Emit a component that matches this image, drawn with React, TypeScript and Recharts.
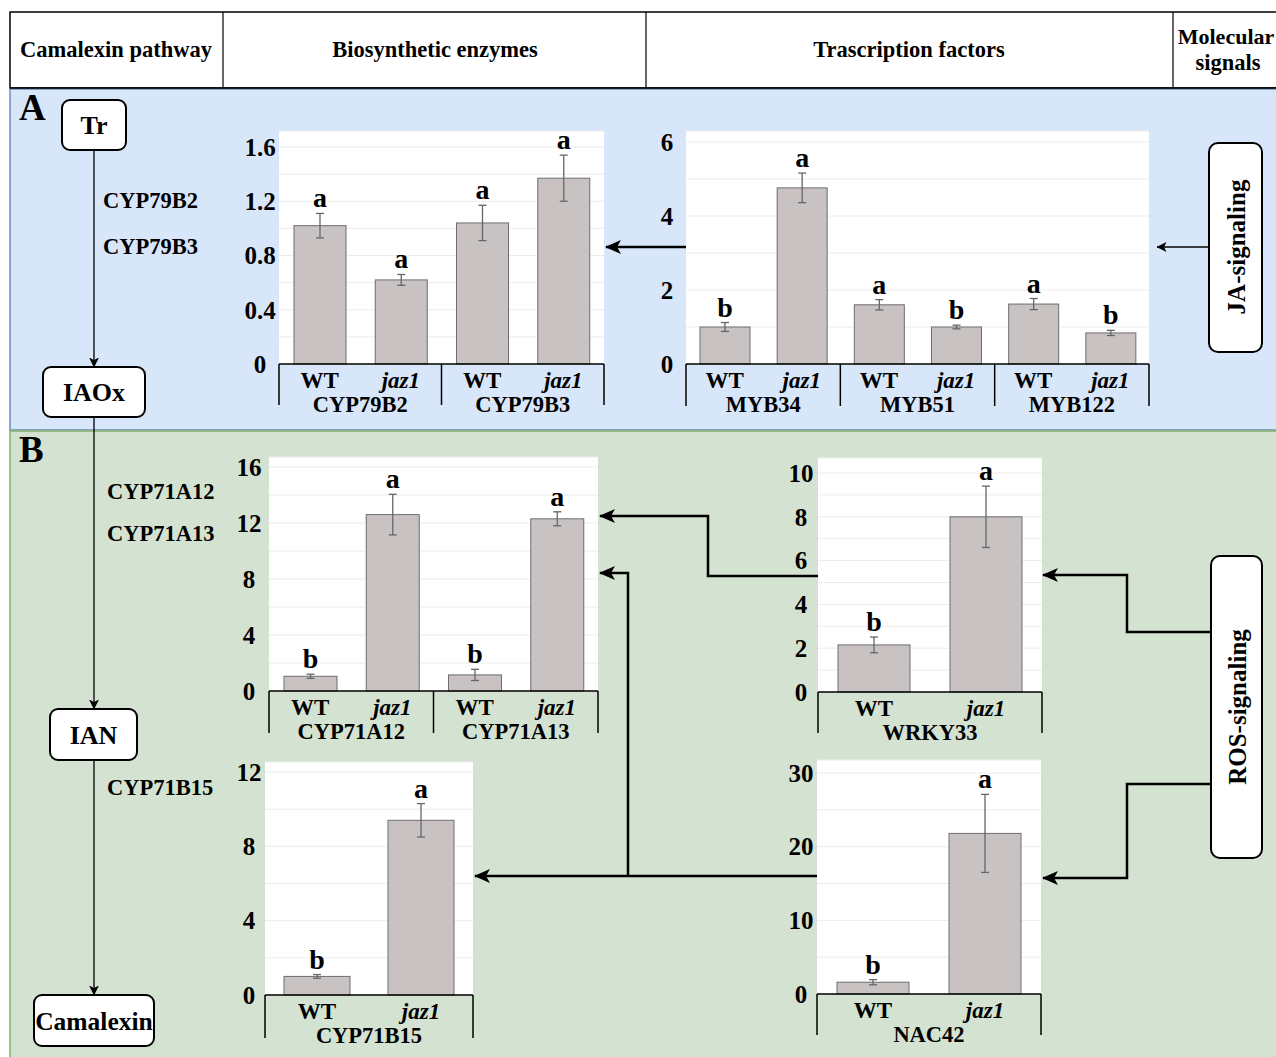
import React from 'react';
import { BarChart, Bar, XAxis, YAxis, CartesianGrid, ErrorBar } from 'recharts';

const FONT = '"Liberation Serif", "Times New Roman", serif';

const strains = ['WT', 'jaz1'];

// A: biosynthetic enzymes
const cyp79Genes = ['CYP79B2', 'CYP79B3'];
const cyp79Values = [1.02, 0.62, 1.04, 1.37];
const cyp79Errors = [0.09, 0.04, 0.13, 0.17];
const cyp79Letters = ['a', 'a', 'a', 'a'];
const cyp79Ticks = [0, 0.2, 0.4, 0.6, 0.8, 1.0, 1.2, 1.4, 1.6];
const cyp79Labels = [0, 0.4, 0.8, 1.2, 1.6];

// A: transcription factors
const mybGenes = ['MYB34', 'MYB51', 'MYB122'];
const mybValues = [1.0, 4.76, 1.6, 1.0, 1.62, 0.84];
const mybErrors = [0.12, 0.4, 0.14, 0.05, 0.15, 0.07];
const mybLetters = ['b', 'a', 'a', 'b', 'a', 'b'];
const mybTicks = [0, 1, 2, 3, 4, 5, 6];
const mybLabels = [0, 2, 4, 6];

// B: biosynthetic enzymes
const cyp71aGenes = ['CYP71A12', 'CYP71A13'];
const cyp71aValues = [1.05, 12.6, 1.15, 12.3];
const cyp71aErrors = [0.15, 1.45, 0.4, 0.5];
const cyp71aLetters = ['b', 'a', 'b', 'a'];
const cyp71aTicks = [0, 2, 4, 6, 8, 10, 12, 14, 16];
const cyp71aLabels = [0, 4, 8, 12, 16];

const cyp71bGenes = ['CYP71B15'];
const cyp71bValues = [1.0, 9.4];
const cyp71bErrors = [0.1, 0.9];
const cyp71bLetters = ['b', 'a'];
const cyp71bTicks = [0, 2, 4, 6, 8, 10, 12];
const cyp71bLabels = [0, 4, 8, 12];

// B: transcription factors
const wrkyGenes = ['WRKY33'];
const wrkyValues = [2.15, 8.0];
const wrkyErrors = [0.36, 1.4];
const wrkyLetters = ['b', 'a'];
const wrkyTicks = [0, 1, 2, 3, 4, 5, 6, 7, 8, 9, 10];
const wrkyLabels = [0, 2, 4, 6, 8, 10];

const nacGenes = ['NAC42'];
const nacValues = [1.6, 21.8];
const nacErrors = [0.35, 5.3];
const nacLetters = ['b', 'a'];
const nacTicks = [0, 5, 10, 15, 20, 25, 30];
const nacLabels = [0, 10, 20, 30];

type Row = { id: string; gene: string; strain: string; value: number; err: number; letter: string };

const buildRows = (genes: string[], values: number[], errors: number[], letters: string[]): Row[] =>
  genes.flatMap((gene, gi) =>
    strains.map((strain, si) => {
      const i = gi * strains.length + si;
      return { id: `${gene}-${strain}`, gene, strain, value: values[i], err: errors[i], letter: letters[i] };
    })
  );

type Frame = {
  left: number;
  right: number;
  top: number;
  zero: number;
  sepBottom: number;
  padTop: number;
  barSize: number;
  labelShift: number;
};

const BarWithLetter = (props: any) => {
  const { x, y, width, height, payload } = props;
  const perUnit = payload.value ? height / payload.value : 0;
  const errTop = y - payload.err * perUnit;
  return (
    <g>
      <rect x={x} y={y} width={width} height={height} fill="#c9c2c2" stroke="#6e6e6e" strokeWidth={1} />
      <text
        x={x + width / 2}
        y={errTop - 6}
        textAnchor="middle"
        fontFamily={FONT}
        fontWeight="bold"
        fontSize={28}
        fill="#000"
      >
        {payload.letter}
      </text>
    </g>
  );
};

const GeneChart = ({
  rows,
  ticks,
  labels,
  frame,
}: {
  rows: Row[];
  ticks: number[];
  labels: number[];
  frame: Frame;
}) => {
  const yAxisW = 60;
  const rightPad = 6;
  const topPad = 30;
  const plotW = frame.right - frame.left;
  const xh = frame.sepBottom - frame.zero + 18;
  const height = topPad + frame.zero - frame.top + xh;
  const band = plotW / rows.length;
  const max = ticks[ticks.length - 1];

  const renderXTick = (props: any) => {
    const { x, y, payload } = props;
    const index = props.index ?? payload.index ?? 0;
    const row = rows[index];
    if (!row) return <g />;
    const sepLen = frame.sepBottom - frame.zero;
    const groupStart = index % strains.length === 0;
    const last = index === rows.length - 1;
    return (
      <g>
        <text
          x={x}
          y={y + 24}
          textAnchor="middle"
          fontFamily={FONT}
          fontWeight="bold"
          fontStyle={row.strain === 'WT' ? 'normal' : 'italic'}
          fontSize={23}
          fill="#000"
        >
          {row.strain}
        </text>
        {groupStart && (
          <>
            <line x1={x - band / 2} y1={y} x2={x - band / 2} y2={y + sepLen} stroke="#000" strokeWidth={1.5} />
            <text
              x={x - band / 2 + (band * strains.length) / 2}
              y={y + 48}
              textAnchor="middle"
              fontFamily={FONT}
              fontWeight="bold"
              fontSize={22.5}
              fill="#000"
            >
              {row.gene}
            </text>
          </>
        )}
        {last && <line x1={x + band / 2} y1={y} x2={x + band / 2} y2={y + sepLen} stroke="#000" strokeWidth={1.5} />}
      </g>
    );
  };

  const renderYTick = (props: any) => {
    const { x, y, payload } = props;
    if (!labels.includes(payload.value)) return <g />;
    return (
      <text
        x={x - frame.labelShift}
        y={y}
        dy="0.35em"
        textAnchor="middle"
        fontFamily={FONT}
        fontWeight="bold"
        fontSize={25}
        fill="#000"
      >
        {String(payload.value)}
      </text>
    );
  };

  return (
    <div style={{ position: 'absolute', left: frame.left - yAxisW, top: frame.top - topPad }}>
      <BarChart
        width={yAxisW + plotW + rightPad}
        height={height}
        data={rows}
        margin={{ top: topPad, right: rightPad, left: 0, bottom: 0 }}
      >
        <CartesianGrid vertical={false} stroke="#ececec" fill="#ffffff" fillOpacity={1} />
        <XAxis
          dataKey="id"
          height={xh}
          interval={0}
          tickSize={0}
          tickMargin={0}
          tickLine={false}
          axisLine={{ stroke: '#000', strokeWidth: 1.5 }}
          tick={renderXTick}
        />
        <YAxis
          width={yAxisW}
          domain={[0, max]}
          ticks={ticks}
          interval={0}
          padding={{ top: frame.padTop, bottom: 0 }}
          axisLine={false}
          tickLine={false}
          tickSize={0}
          tickMargin={0}
          tick={renderYTick}
        />
        <Bar dataKey="value" barSize={frame.barSize} shape={BarWithLetter} isAnimationActive={false}>
          <ErrorBar dataKey="err" width={4} stroke="#666" strokeWidth={1.3} direction="y" isAnimationActive={false} />
        </Bar>
      </BarChart>
    </div>
  );
};

const boxStyle = { fill: '#fff', stroke: '#000', strokeWidth: 2 };
const txt = { fontFamily: FONT, fontWeight: 'bold' as const, fill: '#000' };

const Background = () => (
  <svg width={1276} height={1057} style={{ position: 'absolute', left: 0, top: 0 }}>
    <defs>
      <marker id="bigHead" viewBox="0 0 16 14" refX={15} refY={7} markerWidth={16} markerHeight={14} markerUnits="userSpaceOnUse" orient="auto">
        <path d="M0,0 L16,7 L0,14 L4,7 z" fill="#000" />
      </marker>
      <marker id="smallHead" viewBox="0 0 10 10" refX={9.5} refY={5} markerWidth={10} markerHeight={10} markerUnits="userSpaceOnUse" orient="auto">
        <path d="M0,0 L10,5 L0,10 L2.5,5 z" fill="#000" />
      </marker>
    </defs>

    {/* header */}
    <rect x={10} y={12} width={1290} height={76} fill="#fff" stroke="#000" strokeWidth={1.5} />
    <line x1={223} y1={12} x2={223} y2={88} stroke="#000" strokeWidth={1.2} />
    <line x1={646} y1={12} x2={646} y2={88} stroke="#000" strokeWidth={1.2} />
    <line x1={1173} y1={12} x2={1173} y2={88} stroke="#000" strokeWidth={1.2} />
    <text {...txt} x={116} y={57} fontSize={22.5} textAnchor="middle">Camalexin pathway</text>
    <text {...txt} x={435} y={57} fontSize={22.5} textAnchor="middle">Biosynthetic enzymes</text>
    <text {...txt} x={909} y={57} fontSize={22.5} textAnchor="middle">Trascription factors</text>
    <text {...txt} x={1226} y={44} fontSize={22} textAnchor="middle">Molecular</text>
    <text {...txt} x={1228} y={70} fontSize={22.5} textAnchor="middle">signals</text>

    {/* panels */}
    <rect x={10} y={89} width={1290} height={341} fill="#d8e6fa" stroke="#6c8ebf" strokeWidth={1.5} />
    <rect x={10} y={431} width={1290} height={640} fill="#d4e3d1" stroke="#82b366" strokeWidth={1.5} />
    <line x1={10} y1={88} x2={1276} y2={88} stroke="#000" strokeWidth={1.5} />
    <text {...txt} x={19} y={120} fontSize={37}>A</text>
    <text {...txt} x={19} y={462} fontSize={37}>B</text>

    {/* pathway */}
    <path d="M94 150 V367" stroke="#000" strokeWidth={1.3} fill="none" markerEnd="url(#smallHead)" />
    <path d="M94 417 V709" stroke="#000" strokeWidth={1.3} fill="none" markerEnd="url(#smallHead)" />
    <path d="M94 760 V995" stroke="#000" strokeWidth={1.3} fill="none" markerEnd="url(#smallHead)" />
    <rect x={62} y={100} width={64} height={50} rx={8} {...boxStyle} />
    <text {...txt} x={94} y={134} fontSize={26} textAnchor="middle">Tr</text>
    <rect x={43} y={367} width={102} height={50} rx={8} {...boxStyle} />
    <text {...txt} x={94} y={401} fontSize={26} textAnchor="middle">IAOx</text>
    <rect x={50} y={709} width={87} height={51} rx={8} {...boxStyle} />
    <text {...txt} x={93.5} y={744} fontSize={26} textAnchor="middle">IAN</text>
    <rect x={34} y={995} width={120} height={51} rx={8} {...boxStyle} />
    <text {...txt} x={94} y={1030} fontSize={25.5} textAnchor="middle">Camalexin</text>
    <text {...txt} x={103} y={208} fontSize={22.5}>CYP79B2</text>
    <text {...txt} x={103} y={254} fontSize={22.5}>CYP79B3</text>
    <text {...txt} x={107} y={499} fontSize={22.5}>CYP71A12</text>
    <text {...txt} x={107} y={541} fontSize={22.5}>CYP71A13</text>
    <text {...txt} x={107} y={795} fontSize={22.5}>CYP71B15</text>

    {/* signalling boxes */}
    <rect x={1209} y={143} width={53} height={209} rx={9} {...boxStyle} />
    <text {...txt} fontSize={25} textAnchor="middle" transform="translate(1245 247) rotate(-90)">JA-signaling</text>
    <rect x={1211} y={556} width={51} height={302} rx={9} {...boxStyle} />
    <text {...txt} fontSize={25} textAnchor="middle" transform="translate(1246 707) rotate(-90)">ROS-signaling</text>

    {/* regulation arrows */}
    <path d="M1209 247 H1157" stroke="#000" strokeWidth={1.3} fill="none" markerEnd="url(#smallHead)" />
    <path d="M686 247 H606" stroke="#000" strokeWidth={2.5} fill="none" markerEnd="url(#bigHead)" />
    <path d="M1211 632 H1127 V575 H1043" stroke="#000" strokeWidth={2.5} fill="none" markerEnd="url(#bigHead)" />
    <path d="M1211 784 H1127 V878 H1043" stroke="#000" strokeWidth={2.5} fill="none" markerEnd="url(#bigHead)" />
    <path d="M818 576 H708 V516 H600" stroke="#000" strokeWidth={2.5} fill="none" markerEnd="url(#bigHead)" />
    <path d="M818 876 H475" stroke="#000" strokeWidth={2.5} fill="none" markerEnd="url(#bigHead)" />
    <path d="M628 876 V573 H600" stroke="#000" strokeWidth={2.5} fill="none" markerEnd="url(#bigHead)" />
  </svg>
);

export default function App() {
  return (
    <div
      style={{
        position: 'absolute',
        left: 0,
        top: 0,
        width: 1276,
        height: 1057,
        overflow: 'hidden',
        background: '#fff',
        fontFamily: FONT,
      }}
    >
      <Background />
      <GeneChart
        rows={buildRows(cyp79Genes, cyp79Values, cyp79Errors, cyp79Letters)}
        ticks={cyp79Ticks}
        labels={cyp79Labels}
        frame={{ left: 279, right: 604, top: 131, zero: 364, sepBottom: 405, padTop: 16, barSize: 52, labelShift: 19 }}
      />
      <GeneChart
        rows={buildRows(mybGenes, mybValues, mybErrors, mybLetters)}
        ticks={mybTicks}
        labels={mybLabels}
        frame={{ left: 686, right: 1149, top: 131, zero: 364, sepBottom: 406, padTop: 11, barSize: 50, labelShift: 19 }}
      />
      <GeneChart
        rows={buildRows(cyp71aGenes, cyp71aValues, cyp71aErrors, cyp71aLetters)}
        ticks={cyp71aTicks}
        labels={cyp71aLabels}
        frame={{ left: 269, right: 598, top: 457, zero: 691, sepBottom: 733, padTop: 10, barSize: 53, labelShift: 20 }}
      />
      <GeneChart
        rows={buildRows(wrkyGenes, wrkyValues, wrkyErrors, wrkyLetters)}
        ticks={wrkyTicks}
        labels={wrkyLabels}
        frame={{ left: 818, right: 1042, top: 458, zero: 692, sepBottom: 733, padTop: 15, barSize: 72, labelShift: 17 }}
      />
      <GeneChart
        rows={buildRows(cyp71bGenes, cyp71bValues, cyp71bErrors, cyp71bLetters)}
        ticks={cyp71bTicks}
        labels={cyp71bLabels}
        frame={{ left: 265, right: 473, top: 762, zero: 995, sepBottom: 1038, padTop: 10, barSize: 66, labelShift: 16 }}
      />
      <GeneChart
        rows={buildRows(nacGenes, nacValues, nacErrors, nacLetters)}
        ticks={nacTicks}
        labels={nacLabels}
        frame={{ left: 817, right: 1041, top: 760, zero: 994, sepBottom: 1035, padTop: 13, barSize: 72, labelShift: 16 }}
      />
    </div>
  );
}
